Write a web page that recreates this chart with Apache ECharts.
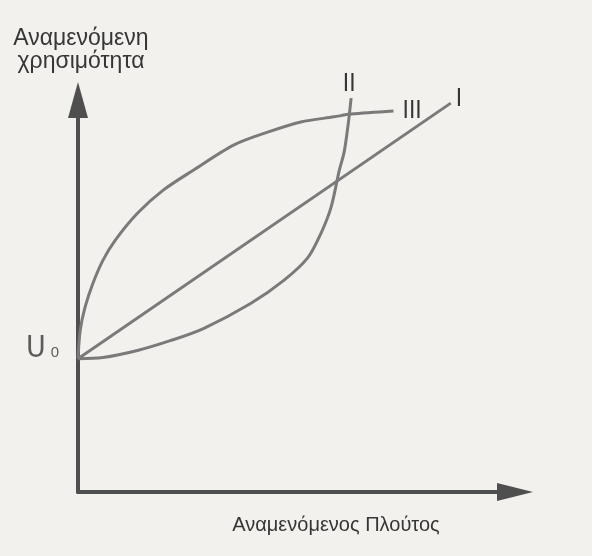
<!DOCTYPE html>
<html>
<head>
<meta charset="utf-8">
<script src="https://cdn.jsdelivr.net/npm/echarts@6/dist/echarts.min.js"></script>
<style>
  html, body { margin: 0; padding: 0; background: #f2f1ee; }
  #chart { width: 592px; height: 556px; }
</style>
</head>
<body>
<div id="chart"></div>
<script>
// Utility at zero risk-adjusted wealth (common starting point of all curves)
const U0 = 34.0;

// Curve labels
const curveNames = ['I', 'II', 'III'];

// I: risk-neutral (straight line)
const lineI = [[0, 34.0], [85.3, 99.2]];

// II: risk-seeking (convex)
const curveII = [
  [0, 34.0], [5.7, 34.3], [13.6, 36.1], [21.1, 38.6], [28.7, 41.7],
  [39.5, 48.1], [47.1, 54.0], [52.6, 59.8], [55.6, 66.0], [57.9, 72.6],
  [59.8, 82.1], [60.9, 86.7], [61.8, 93.6], [62.5, 100.5]
];

// III: risk-averse (concave)
const curveIII = [
  [0, 34.0], [0.5, 41.2], [1.6, 47.1], [3.4, 53.2], [5.7, 59.1],
  [8.5, 64.2], [13.6, 71.1], [19.5, 77.0], [26.4, 82.1], [35.6, 88.5],
  [43.4, 91.8], [51.0, 94.4], [58.6, 95.7], [62.5, 96.4], [72.2, 97.2]
];

const yTitle = 'Αναμενόμενη\nχρησιμότητα';
const xTitle = 'Αναμενόμενος Πλούτος';

const axisColor = '#4f4f4f';
const curveColor = '#7a7a7a';
const textColor = '#363636';
const sansFont = "'Liberation Sans', Arial, sans-serif";
const narrowFont = "'Liberation Sans Narrow', 'DejaVu Sans Condensed', sans-serif";

const chart = echarts.init(document.getElementById('chart'), null, { renderer: 'canvas' });

function curveSeries(name, data, endLabel) {
  return {
    type: 'line',
    name: name,
    data: data,
    smooth: 0.3,
    showSymbol: false,
    clip: false,
    silent: true,
    lineStyle: { color: curveColor, width: 3 },
    endLabel: Object.assign({
      show: true,
      formatter: (p) => p.seriesName,
      color: textColor,
      fontFamily: narrowFont,
      fontSize: 24
    }, endLabel)
  };
}

chart.setOption({
  animation: false,
  backgroundColor: '#f2f1ee',
  grid: { left: 78, top: 100, width: 437, height: 392 },
  xAxis: {
    type: 'value',
    min: 0,
    max: 100,
    axisLine: {
      show: true,
      symbol: ['none', 'triangle'],
      symbolSize: [18, 36],
      lineStyle: { color: axisColor, width: 4 }
    },
    axisTick: { show: false },
    axisLabel: { show: false },
    splitLine: { show: false },
    name: xTitle,
    nameLocation: 'middle',
    nameGap: 23,
    nameTextStyle: {
      color: textColor,
      fontFamily: sansFont,
      fontSize: 20,
      padding: [0, 0, 0, 79]
    }
  },
  yAxis: {
    type: 'value',
    min: 0,
    max: 100,
    axisLine: {
      show: true,
      symbol: ['none', 'triangle'],
      symbolSize: [20, 36],
      lineStyle: { color: axisColor, width: 4 }
    },
    axisTick: { show: false },
    axisLabel: { show: false },
    splitLine: { show: false },
    name: yTitle,
    nameLocation: 'end',
    nameGap: 27,
    nameTextStyle: {
      color: textColor,
      fontFamily: sansFont,
      fontSize: 23,
      lineHeight: 23,
      align: 'center',
      verticalAlign: 'bottom',
      padding: [0, 0, 0, 6]
    }
  },
  series: [
    curveSeries(curveNames[0], lineI, { distance: 5, offset: [0, -3] }),
    curveSeries(curveNames[1], curveII, { align: 'center', distance: 0, offset: [-2, -13] }),
    curveSeries(curveNames[2], curveIII, { distance: 9, offset: [0, 1] }),
    {
      type: 'scatter',
      data: [[0, U0]],
      symbolSize: 0,
      silent: true,
      label: {
        show: true,
        position: 'left',
        distance: 19,
        offset: [0, -10],
        formatter: '{u|U}{s|0}',
        rich: {
          u: { fontFamily: narrowFont, fontSize: 30, color: textColor },
          s: { fontFamily: sansFont, fontSize: 15, color: textColor, padding: [0, 0, -9, 5] }
        }
      }
    }
  ]
});
</script>
</body>
</html>
